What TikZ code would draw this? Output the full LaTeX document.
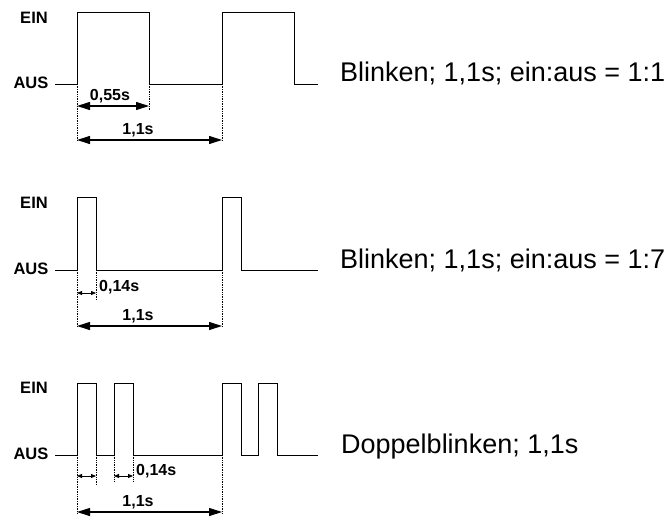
\documentclass[tikz,border=0pt]{standalone}
\usepackage{fontspec}
\setmainfont{Liberation Sans}
\usetikzlibrary{arrows.meta}

\tikzset{
  signal/.style={line width=0.9pt},
  guide/.style={densely dotted, line width=0.7pt},
  bigdim/.style={line width=1.1pt, {Triangle[length=13pt,width=8pt]}-{Triangle[length=13pt,width=8pt]}},
  smalldim/.style={line width=0.8pt, {Triangle[length=5pt,width=4pt]}-{Triangle[length=5pt,width=4pt]}},
  level/.style={font=\fontsize{16.5}{18}\selectfont\bfseries, inner sep=0pt},
  dimtext/.style={font=\fontsize{16}{18}\selectfont\bfseries, inner sep=0pt},
  caption/.style={font=\fontsize{27}{30}\selectfont, inner sep=0pt, anchor=base west}
}

\begin{document}
\begin{tikzpicture}[x=1pt, y=-1pt]
        \useasboundingbox (0,0) rectangle (671,516);

        % ---------- first row: 1:1 ----------
        \node[level] (ein1) at (34,18) {EIN};
        \node[level] (aus1) at (31,83) {AUS};
        \draw[signal] (55,84) -- (77,84) -- (77,12) -- (149,12) -- (149,84)
                      -- (222,84) -- (222,12) -- (294,12) -- (294,84) -- (318,84);
        \node[caption] (txt1) at (340,82) {Blinken; 1,1s; ein:aus = 1:1};

        % the guide lines and the points for the arrows
        \coordinate (p1a) at (77,106);
        \coordinate (p1b) at (149,106);
        \coordinate (q1a) at (77,140);
        \coordinate (q1b) at (222,140);
        \draw[guide] (77,84) -- (77,141);
        \draw[guide] (149,84) -- (149,110);
        \draw[guide] (222,84) -- (222,141);

        \draw[bigdim] (p1a) -- (p1b);
        \node[dimtext] (d1a) at (110,96) {0,55s};
        \draw[bigdim] (q1a) -- (q1b);
        \node[dimtext] (d1b) at (138,130) {1,1s};

        % ---------- second row: 1:7 ----------
        \node[level] (ein2) at (34,203) {EIN};
        \node[level] (aus2) at (31,269) {AUS};
        \draw[signal] (55,270) -- (77,270) -- (77,197) -- (96,197) -- (96,270)
                      -- (222,270) -- (222,197) -- (241,197) -- (241,270) -- (318,270);
        \node[caption] (txt2) at (340,268) {Blinken; 1,1s; ein:aus = 1:7};

        \coordinate (p2a) at (77,293);
        \coordinate (p2b) at (96,293);
        \coordinate (q2a) at (77,326);
        \coordinate (q2b) at (222,326);
        \draw[guide] (77,270) -- (77,327);
        \draw[guide] (96,270) -- (96,300);
        \draw[guide] (222,270) -- (222,327);

        \draw[smalldim] (p2a) -- (p2b);
        \node[dimtext, anchor=west] (d2a) at (99,287) {0,14s};
        \draw[bigdim] (q2a) -- (q2b);
        \node[dimtext] (d2b) at (138,316) {1,1s};

        % ---------- third row: double flash ----------
        \node[level] (ein3) at (34,388) {EIN};
        \node[level] (aus3) at (31,454) {AUS};
        \draw[signal] (55,455) -- (77,455) -- (77,383) -- (96,383) -- (96,455)
                      -- (114,455) -- (114,383) -- (133,383) -- (133,455)
                      -- (222,455) -- (222,383) -- (241,383) -- (241,455)
                      -- (258,455) -- (258,383) -- (277,383) -- (277,455) -- (318,455);
        \node[caption] (txt3) at (341,453) {Doppelblinken; 1,1s};

        \coordinate (p3a) at (77,476);
        \coordinate (p3b) at (96,476);
        \coordinate (r3a) at (114,476);
        \coordinate (r3b) at (133,476);
        \coordinate (q3a) at (77,512);
        \coordinate (q3b) at (222,512);
        \draw[guide] (77,455) -- (77,514);
        \draw[guide] (96,455) -- (96,485);
        \draw[guide] (114,455) -- (114,482);
        \draw[guide] (133,455) -- (133,482);
        \draw[guide] (222,455) -- (222,514);

        \draw[smalldim] (p3a) -- (p3b);
        \draw[smalldim] (r3a) -- (r3b);
        \node[dimtext, anchor=west] (d3a) at (136,471) {0,14s};
        \draw[bigdim] (q3a) -- (q3b);
        \node[dimtext] (d3b) at (138,502) {1,1s};

\end{tikzpicture}
\end{document}
